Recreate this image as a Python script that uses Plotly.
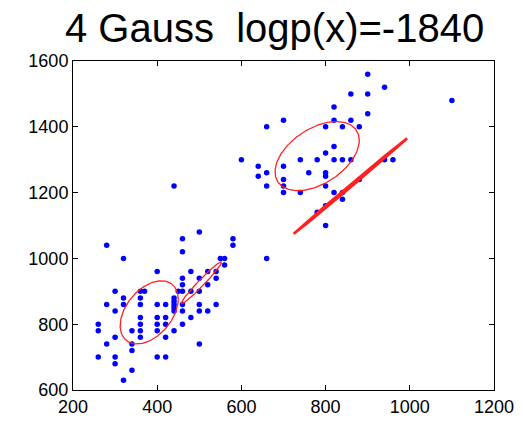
import numpy as np
import plotly.graph_objects as go

# data points
xs = [
    260, 260, 260, 280, 280, 280, 300, 300, 300, 300, 300,
    320, 320, 320, 320, 340, 340, 340, 340,
    360, 360, 360, 360, 360, 360, 360, 370,
    400, 400, 400, 400, 400, 400, 420, 420, 420, 420, 420,
    440, 440, 440, 440, 440, 440, 440, 450,
    460, 460, 460, 460, 460, 460, 460, 460, 480, 480, 480,
    500, 500, 500, 500, 500, 500, 520, 520, 520, 540, 540, 540,
    550, 560, 560, 580, 580, 660,
    600, 640, 640, 660, 660, 660,
    700, 700, 700, 700, 700, 740, 740, 760, 780, 780,
    800, 800, 800, 800, 800, 800, 800,
    820, 820, 820, 820, 820, 840, 840, 840, 840,
    860, 860, 860, 880, 880, 900, 900, 900, 940, 940, 960, 1100,
]
ys = [
    800, 780, 700, 1040, 860, 740, 900, 840, 760, 700, 680,
    1000, 880, 860, 630, 780, 740, 720, 660,
    900, 880, 860, 820, 800, 780, 760, 900,
    960, 860, 820, 800, 780, 700, 860, 820, 800, 760, 700,
    1220, 880, 870, 860, 850, 840, 780, 900,
    1060, 1020, 940, 920, 900, 860, 840, 800, 960, 900, 820,
    1080, 940, 900, 860, 840, 740, 960, 920, 840, 960, 940, 860,
    1000, 1000, 980, 1060, 1040, 1000,
    1300, 1280, 1250, 1400, 1260, 1220,
    1420, 1280, 1240, 1220, 1200, 1300, 1200, 1260, 1300, 1140,
    1400, 1320, 1260, 1250, 1220, 1160, 1100,
    1460, 1420, 1340, 1300, 1200, 1400, 1300, 1200, 1180,
    1500, 1420, 1300, 1400, 1240, 1560, 1500, 1440, 1520, 1300, 1300, 1480,
]

# fitted gaussians: mean, spread along x / y, correlation
mean_x = [381, 505, 780, 859]
mean_y = [836, 926, 1311, 1220]
spread_x = [69, 47.8, 100, 134.7]
spread_y = [96, 63.4, 105, 145]
rho = [0.42, 0.978, 0.457, 0.9995]
line_w = [1.3, 1.3, 1.3, 2.4]

fig = go.Figure()

fig.add_trace(
    go.Scatter(
        x=xs,
        y=ys,
        mode="markers",
        marker=dict(color="#0000ff", size=5.5),
        showlegend=False,
    )
)

t = np.linspace(0, 2 * np.pi, 200)
for mx, my, sx, sy, r, w in zip(mean_x, mean_y, spread_x, spread_y, rho, line_w):
    ex = mx + sx * np.cos(t)
    ey = my + sy * (r * np.cos(t) + np.sqrt(1 - r * r) * np.sin(t))
    fig.add_trace(
        go.Scatter(
            x=ex,
            y=ey,
            mode="lines",
            line=dict(color="#ff2020", width=w),
            showlegend=False,
        )
    )

axis_style = dict(
    showgrid=False,
    zeroline=False,
    showline=True,
    linecolor="black",
    linewidth=1,
    mirror="allticks",
    ticks="inside",
    ticklen=5,
    tickcolor="black",
    automargin=False,
    tickfont=dict(family="Liberation Sans, Arial", size=18, color="black"),
)

fig.update_layout(
    width=523,
    height=422,
    paper_bgcolor="white",
    plot_bgcolor="white",
    margin=dict(l=73, r=29, t=61, b=32),
    title=dict(
        text="4 Gauss\u00a0 logp(x)=-1840",
        font=dict(family="Liberation Sans, Arial", size=40, color="black"),
        x=0.525,
        xanchor="center",
        y=0.934,
        yanchor="middle",
    ),
    xaxis=dict(range=[200, 1200], tickvals=[200, 400, 600, 800, 1000, 1200], **axis_style),
    yaxis=dict(range=[600, 1600], tickvals=[600, 800, 1000, 1200, 1400, 1600], **axis_style),
)

# page body has a default 8px margin; drop it so the figure fills the window
fig.write_html(
    "out.html",
    config={"displayModeBar": False},
    post_script="document.body.style.margin='0';",
)
